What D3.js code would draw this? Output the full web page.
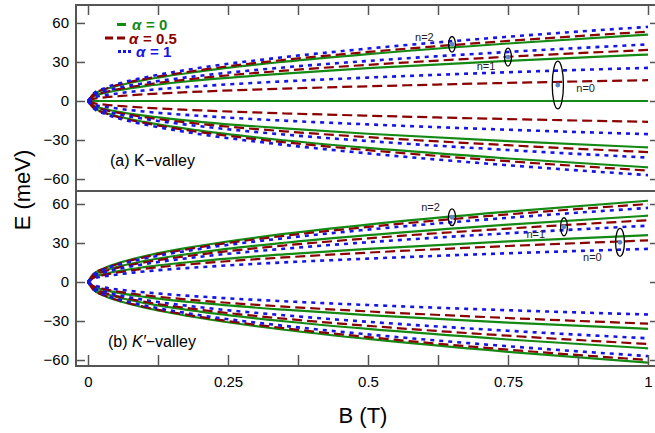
<!DOCTYPE html>
<html>
<head>
<meta charset="utf-8">
<script src="https://cdn.jsdelivr.net/npm/d3@7"></script>
<style>
  body { margin: 0; background: #fff; }
  svg { font-family: "Liberation Sans", Arial, Helvetica, sans-serif; }
</style>
</head>
<body>
<div id="chart"></div>
<script>
// magnetic field samples (T)
const B = [0, 0.01, 0.03, 0.06, 0.1, 0.2, 0.35, 0.5, 0.75, 1];

// (a) K-valley levels, E in meV
const kAlpha0 = [
  [0, 5.1, 8.8, 12.5, 16.1, 22.8, 30.2, 36.1, 44.2, 51],
  [0, 3.6, 6.2, 8.7, 11.3, 16.0, 21.1, 25.2, 30.9, 35.7],
  [0, 0, 0, 0, 0, 0, 0, 0, 0, 0],
  [0, -3.6, -6.2, -8.7, -11.3, -16.0, -21.1, -25.2, -30.9, -35.7],
  [0, -5.1, -8.8, -12.5, -16.1, -22.8, -30.2, -36.1, -44.2, -51]
];
const kAlpha05 = [
  [0, 5.3, 9.2, 13.1, 16.8, 23.8, 31.6, 37.7, 46.2, 53.3],
  [0, 3.9, 6.8, 9.6, 12.4, 17.6, 23.3, 27.8, 34.0, 39.3],
  [0, 1.6, 2.8, 3.9, 5.1, 7.2, 9.5, 11.3, 13.9, 16],
  [0, -1.6, -2.8, -3.9, -5.1, -7.2, -9.5, -11.3, -13.9, -16],
  [0, -3.9, -6.8, -9.6, -12.4, -17.6, -23.3, -27.8, -34.0, -39.3],
  [0, -5.3, -9.2, -13.1, -16.8, -23.9, -31.7, -37.8, -46.3, -53.5]
];
const kAlpha1 = [
  [0, 5.7, 9.9, 14.0, 18.0, 25.5, 33.7, 40.3, 49.4, 57],
  [0, 4.4, 7.5, 10.7, 13.7, 19.4, 25.8, 30.8, 37.7, 43.5],
  [0, 2.6, 4.4, 6.2, 8.1, 11.4, 15.1, 18.0, 22.1, 25.5],
  [0, -2.6, -4.4, -6.2, -8.1, -11.4, -15.1, -18.0, -22.1, -25.5],
  [0, -4.4, -7.5, -10.7, -13.7, -19.4, -25.8, -30.8, -37.7, -43.5],
  [0, -5.7, -9.9, -14.0, -18.0, -25.5, -33.7, -40.3, -49.4, -57]
];

// (b) K'-valley levels, E in meV
const kpAlpha0 = [
  [0, 6.3, 10.8, 15.3, 19.8, 27.9, 37.0, 44.2, 54.1, 62.5],
  [0, 5.1, 8.8, 12.5, 16.1, 22.8, 30.2, 36.1, 44.2, 51],
  [0, 3.6, 6.2, 8.8, 11.4, 16.1, 21.3, 25.5, 31.2, 36],
  [0, -3.6, -6.2, -8.8, -11.4, -16.1, -21.3, -25.5, -31.2, -36],
  [0, -5.1, -8.8, -12.5, -16.1, -22.8, -30.2, -36.1, -44.2, -51],
  [0, -6.2, -10.7, -15.2, -19.6, -27.7, -36.7, -43.8, -53.7, -62]
];
const kpAlpha05 = [
  [0, 6.0, 10.4, 14.7, 19.0, 26.8, 35.5, 42.4, 52.0, 60],
  [0, 4.8, 8.2, 11.6, 15.0, 21.2, 28.1, 33.6, 41.1, 47.5],
  [0, 3.2, 5.5, 7.8, 10.1, 14.3, 18.9, 22.6, 27.7, 32],
  [0, -3.2, -5.5, -7.8, -10.1, -14.3, -18.9, -22.6, -27.7, -32],
  [0, -4.8, -8.2, -11.7, -15.1, -21.3, -28.2, -33.7, -41.3, -47.7],
  [0, -6.0, -10.4, -14.7, -19.0, -26.8, -35.5, -42.4, -52.0, -60]
];
const kpAlpha1 = [
  [0, 5.7, 9.9, 14.0, 18.0, 25.5, 33.7, 40.3, 49.4, 57],
  [0, 4.3, 7.5, 10.6, 13.7, 19.4, 25.6, 30.6, 37.5, 43.3],
  [0, 2.6, 4.4, 6.2, 8.1, 11.4, 15.1, 18.0, 22.1, 25.5],
  [0, -2.5, -4.3, -6.1, -7.9, -11.2, -14.8, -17.7, -21.7, -25],
  [0, -4.3, -7.5, -10.6, -13.7, -19.4, -25.6, -30.6, -37.5, -43.3],
  [0, -5.7, -9.9, -14.0, -18.0, -25.5, -33.7, -40.3, -49.4, -57]
];

const yTicks = [-60, -30, 0, 30, 60];
const xTicks = [0, 0.125, 0.25, 0.375, 0.5, 0.625, 0.75, 0.875, 1];

// circled crossings: [B, E, rx px, ry px], label [B, E, text]
const kMarks = [[0.65, 43.6, 3.4, 7.8], [0.75, 33.8, 3.4, 9], [0.839, 12.3, 5.6, 23.8]];
const kLabels = [[0.584, 46.5, 'n=2'], [0.694, 24, 'n=1'], [0.872, 7, 'n=0']];
const kpMarks = [[0.65, 49.8, 3.6, 8.3], [0.85, 42.5, 3.4, 9], [0.95, 30.5, 4.4, 14]];
const kpLabels = [[0.595, 54.5, 'n=2'], [0.783, 33.5, 'n=1'], [0.884, 16, 'n=0']];

const series = [
  { color: '#138a13', dash: null, width: 2.2 },
  { color: '#8b0000', dash: '10,5', width: 2.2 },
  { color: '#1515e6', dash: '4,5', width: 2.6 }
];

const width = 655, height = 433;
const svg = d3.select('#chart').append('svg')
  .attr('width', width)
  .attr('height', height);

const x = d3.scaleLinear().domain([0, 1]).range([88, 648]);
const yTop = d3.scaleLinear().domain([-69.2, 73.8]).range([191, 5]);
const yBot = d3.scaleLinear().domain([-64.6, 70]).range([366, 191]);

const frame = '#555';

function panel(y, groups, marks, labels) {
  const line = d3.line()
    .x((d, i) => x(B[i]))
    .y(d => y(d))
    .curve(d3.curveMonotoneX);

  groups.forEach((levels, k) => {
    const s = series[k];
    svg.append('g').selectAll('path')
      .data(levels)
      .enter()
      .append('path')
      .attr('d', line)
      .attr('fill', 'none')
      .attr('stroke', s.color)
      .attr('stroke-width', s.width)
      .attr('stroke-dasharray', s.dash);
  });

  // left axis, inward ticks
  const ax = svg.append('g')
    .attr('transform', 'translate(76,0)')
    .call(d3.axisLeft(y).tickValues(yTicks).tickSizeInner(-9).tickSizeOuter(0).tickPadding(7)
      .tickFormat(d => d < 0 ? '\u2212' + Math.abs(d) : d));
  ax.select('.domain').remove();
  ax.selectAll('line').attr('stroke', frame).attr('stroke-width', 1.5);
  ax.selectAll('text').attr('font-size', 15).attr('fill', '#000');

  // right side ticks
  const ar = svg.append('g')
    .attr('transform', 'translate(656,0)')
    .call(d3.axisRight(y).tickValues(yTicks).tickSizeInner(-6).tickSizeOuter(0).tickFormat(''));
  ar.select('.domain').remove();
  ar.selectAll('line').attr('stroke', frame).attr('stroke-width', 1.5);

  svg.append('g').selectAll('ellipse')
    .data(marks)
    .enter()
    .append('ellipse')
    .attr('cx', d => x(d[0]))
    .attr('cy', d => y(d[1]))
    .attr('rx', d => d[2])
    .attr('ry', d => d[3])
    .attr('fill', 'none')
    .attr('stroke', '#000')
    .attr('stroke-width', 1.3);

  svg.append('g').selectAll('circle')
    .data(marks)
    .enter()
    .append('circle')
    .attr('cx', d => x(d[0]))
    .attr('cy', d => y(d[1]))
    .attr('r', 2.4)
    .attr('fill', '#5f86c4');

  svg.append('g').selectAll('text')
    .data(labels)
    .enter()
    .append('text')
    .attr('x', d => x(d[0]))
    .attr('y', d => y(d[1]))
    .attr('font-size', 11)
    .attr('fill', '#222')
    .text(d => d[2]);
}

panel(yTop, [kAlpha0, kAlpha05, kAlpha1], kMarks, kLabels);
panel(yBot, [kpAlpha0, kpAlpha05, kpAlpha1], kpMarks, kpLabels);

// top tick marks
const at = svg.append('g')
  .attr('transform', 'translate(0,5)')
  .call(d3.axisTop(x).tickValues(xTicks).tickSizeInner(-10).tickSizeOuter(0).tickFormat(''));
at.select('.domain').remove();
at.selectAll('line').attr('stroke', frame).attr('stroke-width', 1.5);

// bottom axis
const ab = svg.append('g')
  .attr('transform', 'translate(0,366)')
  .call(d3.axisBottom(x).tickValues(xTicks).tickSizeInner(-11).tickSizeOuter(0).tickPadding(10)
    .tickFormat(d => (d * 4) % 1 === 0 ? d : ''));
ab.select('.domain').remove();
ab.selectAll('line').attr('stroke', frame).attr('stroke-width', 1.5);
ab.selectAll('text').attr('font-size', 15).attr('fill', '#000');

// frame lines
const frameLines = [[76, 5, 76, 366], [75, 5, 656, 5], [75, 191, 656, 191], [75, 366, 656, 366]];
svg.append('g').selectAll('line')
  .data(frameLines)
  .enter()
  .append('line')
  .attr('x1', d => d[0]).attr('y1', d => d[1])
  .attr('x2', d => d[2]).attr('y2', d => d[3])
  .attr('stroke', frame)
  .attr('stroke-width', 2);

// axis titles
svg.append('text')
  .attr('x', 363)
  .attr('y', 423)
  .attr('text-anchor', 'middle')
  .attr('font-size', 22)
  .text('B (T)');

svg.append('text')
  .attr('transform', 'translate(30,190) rotate(-90)')
  .attr('text-anchor', 'middle')
  .attr('font-size', 22)
  .text('E (meV)');

// panel labels
svg.append('text')
  .attr('x', 110)
  .attr('y', 166)
  .attr('font-size', 16)
  .text('(a) K\u2212valley');

const lb = svg.append('text')
  .attr('x', 108)
  .attr('y', 347)
  .attr('font-size', 16);
lb.append('tspan').text('(b) ');
lb.append('tspan').attr('font-style', 'italic').text('K\u2032');
lb.append('tspan').text('\u2212valley');

// legend
const legend = [
  { name: '0', x1: 117, x2: 126, tx: 132, y: 30 },
  { name: '0.5', x1: 105, x2: 126, tx: 129, y: 43.5 },
  { name: '1', x1: 118, x2: 131, tx: 136, y: 57 }
];
legend.forEach((d, i) => {
  const s = series[i];
  svg.append('line')
    .attr('x1', d.x1).attr('x2', d.x2)
    .attr('y1', d.y - 5.5).attr('y2', d.y - 5.5)
    .attr('stroke', s.color)
    .attr('stroke-width', 3)
    .attr('stroke-dasharray', i === 1 ? '8,4' : i === 2 ? '3,2' : null);
  svg.append('text')
    .attr('x', d.tx)
    .attr('y', d.y)
    .attr('font-size', 15)
    .attr('font-weight', 'bold')
    .attr('font-style', 'italic')
    .attr('fill', s.color)
    .text('\u03b1');
  svg.append('text')
    .attr('x', d.tx + 14)
    .attr('y', d.y)
    .attr('font-size', 15)
    .attr('font-weight', 'bold')
    .attr('fill', s.color)
    .text('= ' + d.name);
});
</script>
</body>
</html>
